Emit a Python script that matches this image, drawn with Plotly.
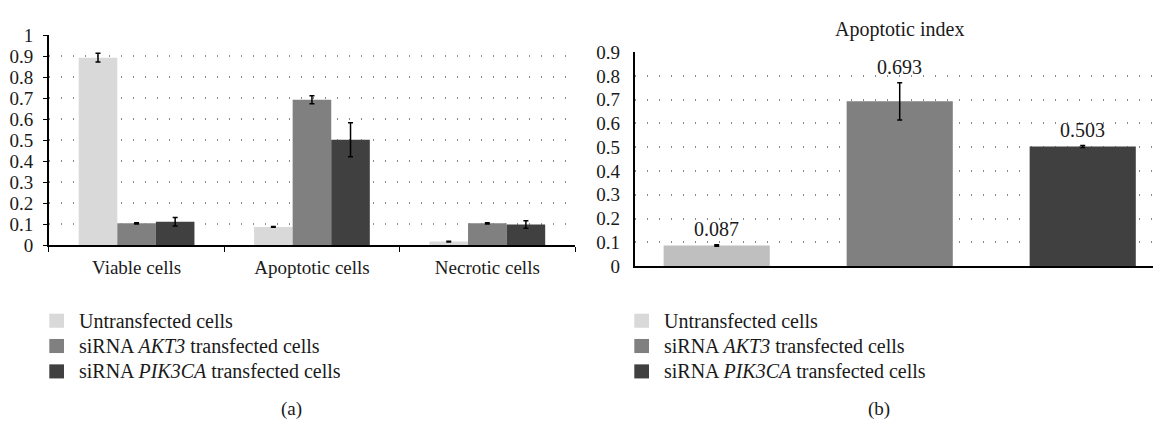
import plotly.graph_objects as go

# ---------------- data ----------------
categories_a = ["Viable cells", "Apoptotic cells", "Necrotic cells"]
series_names = ["Untransfected cells",
                "siRNA <i>AKT3</i> transfected cells",
                "siRNA <i>PIK3CA</i> transfected cells"]
untransfected = [0.894, 0.087, 0.017]
untransfected_err = [0.021, 0.002, 0.002]
akt3 = [0.104, 0.693, 0.104]
akt3_err = [0.003, 0.019, 0.003]
pik3ca = [0.112, 0.503, 0.099]
pik3ca_err = [0.020, 0.081, 0.018]

categories_b = ["Untransfected", "siRNA AKT3", "siRNA PIK3CA"]
apoptotic_index = [0.087, 0.693, 0.503]
apoptotic_index_err = [0.003, 0.078, 0.004]
apoptotic_labels = ["0.087", "0.693", "0.503"]
title_b = "Apoptotic index"
panel_labels = ["(a)", "(b)"]

# ---------------- style ----------------
W, H = 1153, 429
FONT = "'Liberation Serif', 'DejaVu Serif', 'Times New Roman', serif"
colors_a = ["#d9d9d9", "#808080", "#404040"]
colors_b = ["#bfbfbf", "#808080", "#404040"]
legend_colors = ["#d9d9d9", "#808080", "#404040"]

def px_x(p):
    return p / W

def px_y(p):
    return 1 - p / H

fig = go.Figure()

vals_a = [untransfected, akt3, pik3ca]
errs_a = [untransfected_err, akt3_err, pik3ca_err]
for name, v, e, c in zip(series_names, vals_a, errs_a, colors_a):
    fig.add_trace(go.Bar(
        x=categories_a, y=v, name=name, marker=dict(color=c, line=dict(width=0)),
        error_y=dict(type="data", array=e, color="black", thickness=1.5, width=2.5),
        xaxis="x", yaxis="y", showlegend=False))

fig.add_trace(go.Bar(
    x=categories_b, y=apoptotic_index, marker=dict(color=colors_b, line=dict(width=0)),
    width=0.58,
    error_y=dict(type="data", array=apoptotic_index_err, color="black", thickness=1.5, width=2.5),
    xaxis="x2", yaxis="y2", showlegend=False))

grid = dict(showgrid=True, gridcolor="#8a8a8a", gridwidth=1.5, griddash="1px,11px")
tickfont = dict(family=FONT, size=19, color="#1a1a1a")

fig.update_layout(
    width=W, height=H, autosize=False,
    margin=dict(l=0, r=0, t=0, b=0),
    paper_bgcolor="white", plot_bgcolor="white",
    barmode="group", bargap=0.34, bargroupgap=0,
    font=dict(family=FONT, size=19, color="#1a1a1a"),
    xaxis=dict(domain=[px_x(48.9), px_x(575)], range=[-0.5, 2.5],
               showline=True, linecolor="black", linewidth=1.5,
               ticks="outside", tickson="boundaries", ticklen=5, tickcolor="black",
               tickwidth=1.2, tickfont=tickfont, showgrid=False, ticklabelstandoff=4,
               anchor="y"),
    yaxis=dict(domain=[px_y(247.3), px_y(26.7)], range=[0, 1], dtick=0.1,
               showline=True, linecolor="black", linewidth=1.5,
               ticks="outside", ticklen=4, tickcolor="black", tickwidth=1.2,
               tickfont=tickfont, zeroline=False, ticklabelstandoff=6,
               anchor="x", **grid),
    xaxis2=dict(domain=[px_x(634.9), 1.0], range=[-0.447, 2.384],
                showline=True, linecolor="black", linewidth=2,
                ticks="", showticklabels=False, showgrid=False, anchor="y2"),
    yaxis2=dict(domain=[px_y(269.3), px_y(44.3)], range=[0, 0.9], dtick=0.1,
                showline=True, linecolor="black", linewidth=2,
                ticks="", tickfont=tickfont, zeroline=False, ticklabelstandoff=9,
                anchor="x2", **grid),
)

annotations = []
shapes = []

# data labels above error bars (panel b)
for cat, v, e, t in zip(categories_b, apoptotic_index, apoptotic_index_err, apoptotic_labels):
    annotations.append(dict(x=cat, y=v + e, xref="x2", yref="y2", text=t,
                            showarrow=False, yanchor="bottom", yshift=3,
                            font=dict(family=FONT, size=20, color="#1a1a1a")))

# title of panel b
annotations.append(dict(x=px_x(899.7), y=px_y(20), xref="paper", yref="paper",
                        text=title_b, showarrow=False, xanchor="center", yanchor="middle",
                        font=dict(family=FONT, size=20, color="#1a1a1a")))

# legends (manual)
row_centers = [326.7, 353.3, 380.0]
for sq_x, tx_x in [(49.3, 77.3), (634.3, 662.3)]:
    for name, c, ry in zip(series_names, legend_colors, row_centers):
        shapes.append(dict(type="rect", xref="paper", yref="paper",
                           x0=px_x(sq_x), x1=px_x(sq_x + 14.7),
                           y0=px_y(ry + 7.4), y1=px_y(ry - 7.4),
                           fillcolor=c, line=dict(width=0)))
        annotations.append(dict(x=px_x(tx_x), y=px_y(ry), xref="paper", yref="paper",
                                text=name, showarrow=False, xanchor="left", yanchor="middle",
                                font=dict(family=FONT, size=20, color="#1a1a1a")))

# panel labels
for lab, cx in zip(panel_labels, [291, 879]):
    annotations.append(dict(x=px_x(cx), y=px_y(420), xref="paper", yref="paper",
                            text=lab, showarrow=False, xanchor="center", yanchor="middle",
                            font=dict(family=FONT, size=19, color="#1a1a1a")))

fig.update_layout(annotations=annotations, shapes=shapes)

fig.write_html("out.html")
